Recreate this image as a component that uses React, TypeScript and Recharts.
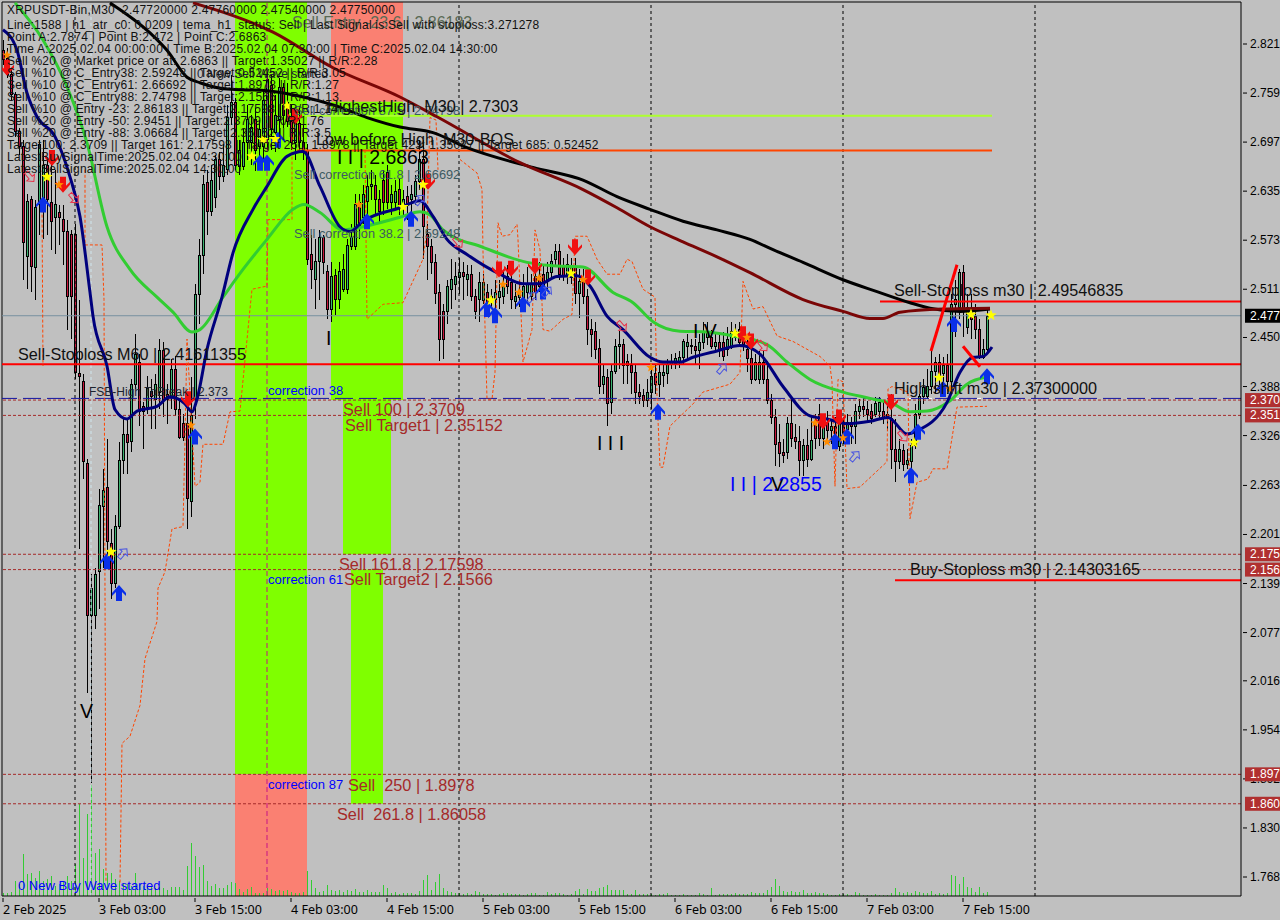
import { ComposedChart, XAxis, YAxis, Bar, Line, Scatter, ReferenceLine, ReferenceArea } from 'recharts';

// [open, high, low, close], one row per M30 bar, split at the chart's day separators
const candlesFeb2 = [
  [2.813,2.826,2.795,2.801],[2.803,2.816,2.778,2.782],[2.782,2.788,2.750,2.757],[2.757,2.760,2.704,2.710],
  [2.710,2.715,2.681,2.691],[2.691,2.700,2.523,2.570],[2.552,2.631,2.511,2.622],[2.624,2.629,2.507,2.540],
  [2.539,2.624,2.498,2.614],[2.618,2.700,2.580,2.694],[2.624,2.700,2.574,2.668],[2.667,2.675,2.580,2.624],
  [2.621,2.679,2.561,2.597],[2.602,2.662,2.555,2.618],[2.608,2.618,2.567,2.602],[2.599,2.618,2.542,2.584],
  [2.584,2.599,2.460,2.502],[2.580,2.586,2.448,2.502],
];
const candlesFeb3 = [
  [2.580,2.593,2.397,2.406],[2.405,2.498,2.183,2.401],[2.395,2.404,2.271,2.293],[2.291,2.296,2.000,2.098],
  [2.098,2.151,1.887,2.133],[2.098,2.158,2.081,2.151],[2.154,2.259,2.107,2.238],[2.236,2.284,2.158,2.257],
  [2.260,2.322,2.170,2.192],[2.189,2.208,2.120,2.139],[2.139,2.225,2.133,2.211],[2.211,2.318,2.208,2.294],
  [2.294,2.349,2.278,2.328],[2.327,2.347,2.278,2.317],[2.318,2.397,2.305,2.391],[2.391,2.454,2.385,2.429],
  [2.419,2.429,2.338,2.357],[2.363,2.368,2.309,2.357],[2.362,2.401,2.353,2.385],[2.382,2.397,2.334,2.375],
  [2.372,2.404,2.334,2.391],[2.381,2.448,2.359,2.433],[2.433,2.444,2.349,2.372],[2.378,2.391,2.341,2.372],
  [2.376,2.423,2.359,2.410],[2.410,2.426,2.351,2.359],[2.359,2.372,2.322,2.324],[2.341,2.353,2.319,2.324],
  [2.341,2.366,2.208,2.246],[2.243,2.400,2.223,2.351],[2.372,2.517,2.347,2.504],[2.504,2.574,2.467,2.554],
  [2.554,2.656,2.530,2.643],[2.646,2.662,2.580,2.609],[2.609,2.668,2.603,2.649],[2.627,2.681,2.614,2.675],
  [2.675,2.685,2.637,2.653],[2.653,2.694,2.646,2.668],[2.662,2.744,2.656,2.728],[2.728,2.782,2.719,2.747],
  [2.747,2.753,2.662,2.668],[2.666,2.700,2.656,2.687],[2.666,2.713,2.662,2.696],[2.696,2.744,2.675,2.725],
  [2.696,2.731,2.668,2.715],[2.725,2.740,2.660,2.687],[2.691,2.725,2.662,2.713],[2.691,2.763,2.675,2.750],
];
const candlesFeb4 = [
  [2.700,2.786,2.687,2.776],[2.769,2.782,2.687,2.713],[2.709,2.757,2.685,2.731],[2.725,2.778,2.700,2.766],
  [2.766,2.772,2.715,2.731],[2.747,2.772,2.716,2.723],[2.723,2.744,2.687,2.696],[2.696,2.738,2.675,2.720],
  [2.720,2.740,2.687,2.696],[2.696,2.719,2.675,2.686],[2.687,2.694,2.542,2.549],[2.555,2.580,2.511,2.536],
  [2.523,2.574,2.486,2.546],[2.546,2.586,2.498,2.576],[2.576,2.580,2.530,2.545],[2.533,2.542,2.473,2.486],
  [2.486,2.546,2.470,2.527],[2.528,2.536,2.479,2.498],[2.498,2.546,2.486,2.533],[2.511,2.555,2.508,2.536],
  [2.511,2.574,2.505,2.566],[2.565,2.593,2.561,2.576],[2.565,2.631,2.561,2.618],[2.621,2.631,2.574,2.589],
  [2.602,2.643,2.593,2.631],[2.622,2.656,2.605,2.641],[2.641,2.662,2.624,2.644],[2.642,2.656,2.605,2.624],
  [2.624,2.637,2.593,2.609],[2.649,2.662,2.605,2.621],[2.658,2.668,2.612,2.621],[2.621,2.643,2.605,2.631],
  [2.621,2.649,2.612,2.634],[2.637,2.652,2.605,2.617],[2.617,2.637,2.605,2.624],[2.628,2.641,2.599,2.617],
  [2.624,2.643,2.593,2.631],[2.628,2.656,2.618,2.647],[2.647,2.700,2.637,2.675],[2.675,2.700,2.549,2.590],
  [2.580,2.593,2.523,2.565],[2.565,2.574,2.530,2.545],[2.545,2.555,2.492,2.505],[2.507,2.517,2.420,2.448],
  [2.483,2.492,2.423,2.448],[2.483,2.523,2.467,2.515],[2.511,2.549,2.486,2.523],[2.517,2.546,2.498,2.527],
];
const candlesFeb5 = [
  [2.526,2.551,2.505,2.532],[2.532,2.546,2.498,2.527],[2.523,2.542,2.502,2.530],[2.530,2.542,2.496,2.502],
  [2.502,2.511,2.473,2.483],[2.498,2.533,2.470,2.520],[2.497,2.530,2.492,2.520],[2.507,2.517,2.479,2.486],
  [2.496,2.511,2.486,2.502],[2.498,2.523,2.479,2.507],[2.501,2.523,2.486,2.508],[2.502,2.533,2.492,2.515],
  [2.527,2.542,2.505,2.515],[2.520,2.530,2.486,2.498],[2.496,2.517,2.486,2.502],[2.501,2.523,2.488,2.508],
  [2.498,2.530,2.486,2.515],[2.507,2.539,2.492,2.517],[2.502,2.530,2.496,2.517],[2.527,2.542,2.498,2.507],
  [2.527,2.546,2.508,2.515],[2.530,2.542,2.505,2.515],[2.521,2.546,2.511,2.532],[2.532,2.555,2.523,2.546],
  [2.549,2.568,2.539,2.559],[2.559,2.568,2.523,2.530],[2.541,2.551,2.521,2.527],[2.527,2.555,2.517,2.542],
  [2.526,2.551,2.517,2.539],[2.540,2.551,2.492,2.505],[2.505,2.536,2.475,2.521],[2.521,2.536,2.492,2.502],
  [2.502,2.511,2.441,2.460],[2.460,2.473,2.425,2.454],[2.457,2.470,2.423,2.435],[2.436,2.448,2.378,2.388],
  [2.391,2.416,2.378,2.401],[2.400,2.410,2.338,2.366],[2.368,2.416,2.353,2.407],[2.407,2.448,2.404,2.438],
  [2.438,2.458,2.410,2.441],[2.441,2.448,2.391,2.414],[2.420,2.429,2.391,2.414],[2.414,2.429,2.378,2.406],
  [2.406,2.416,2.366,2.381],[2.381,2.391,2.366,2.375],[2.377,2.385,2.362,2.370],[2.370,2.397,2.362,2.381],
];
const candlesFeb6 = [
  [2.381,2.410,2.359,2.401],[2.404,2.416,2.378,2.391],[2.391,2.416,2.375,2.406],[2.402,2.416,2.387,2.406],
  [2.404,2.423,2.391,2.416],[2.416,2.429,2.410,2.420],[2.417,2.431,2.410,2.423],[2.419,2.433,2.412,2.425],
  [2.425,2.448,2.416,2.445],[2.438,2.454,2.423,2.444],[2.440,2.448,2.429,2.438],[2.438,2.448,2.416,2.433],
  [2.433,2.454,2.410,2.444],[2.444,2.469,2.435,2.457],[2.450,2.469,2.441,2.457],[2.450,2.460,2.435,2.439],
  [2.439,2.454,2.433,2.444],[2.444,2.454,2.425,2.433],[2.444,2.457,2.420,2.426],[2.435,2.463,2.426,2.448],
  [2.439,2.469,2.435,2.457],[2.450,2.467,2.445,2.458],[2.460,2.470,2.438,2.444],[2.448,2.460,2.433,2.441],
  [2.435,2.448,2.407,2.423],[2.423,2.441,2.391,2.397],[2.397,2.429,2.395,2.419],[2.397,2.433,2.391,2.419],
  [2.419,2.433,2.391,2.397],[2.397,2.420,2.366,2.370],[2.370,2.378,2.341,2.349],[2.349,2.359,2.288,2.315],
  [2.317,2.341,2.286,2.303],[2.304,2.322,2.291,2.301],[2.305,2.349,2.296,2.341],[2.341,2.372,2.312,2.322],
  [2.324,2.341,2.309,2.319],[2.319,2.338,2.275,2.294],[2.294,2.322,2.275,2.313],[2.313,2.334,2.286,2.296],
  [2.296,2.351,2.294,2.320],[2.343,2.353,2.309,2.322],[2.353,2.366,2.313,2.322],[2.322,2.353,2.309,2.337],
  [2.343,2.357,2.322,2.332],[2.332,2.347,2.315,2.338],[2.338,2.349,2.309,2.318],[2.312,2.353,2.307,2.341],
];
const candlesFeb7 = [
  [2.341,2.349,2.315,2.325],[2.334,2.353,2.322,2.343],[2.343,2.349,2.315,2.338],[2.338,2.366,2.315,2.356],
  [2.356,2.372,2.347,2.363],[2.363,2.372,2.349,2.359],[2.359,2.370,2.344,2.353],[2.356,2.366,2.341,2.347],
  [2.353,2.375,2.349,2.366],[2.357,2.375,2.347,2.368],[2.357,2.370,2.341,2.349],[2.353,2.366,2.332,2.349],
  [2.347,2.378,2.284,2.309],[2.309,2.347,2.267,2.293],[2.293,2.322,2.284,2.309],[2.307,2.315,2.281,2.290],
  [2.290,2.309,2.284,2.294],[2.293,2.322,2.284,2.313],[2.313,2.366,2.309,2.353],[2.353,2.378,2.347,2.375],
  [2.375,2.397,2.366,2.387],[2.376,2.410,2.372,2.388],[2.388,2.433,2.378,2.407],[2.407,2.425,2.378,2.419],
  [2.419,2.429,2.385,2.401],[2.404,2.425,2.391,2.414],[2.414,2.429,2.378,2.394],[2.395,2.505,2.378,2.492],
  [2.492,2.523,2.450,2.498],[2.488,2.536,2.473,2.532],[2.532,2.542,2.450,2.486],[2.463,2.505,2.454,2.488],
  [2.486,2.505,2.448,2.473],[2.476,2.492,2.448,2.460],[2.460,2.473,2.423,2.426],[2.425,2.448,2.423,2.435],
  [2.435,2.487,2.429,2.477],
];
const volumes = [
  30,30,40,150,120,420,220,230,180,250, 150,170,200,100,120,150,200,150,320,920,
  380,820,1110,430,470,270,230,230,170,150, 130,120,100,230,120,100,100,90,80,90,
  80,60,90,90,90,60,300,530,400,290, 310,150,100,120,80,80,110,140,130,70,
  40,70,90,30,30,30,80,70,50,60, 50,60,40,30,30,40,250,160,80,40,
  50,110,60,50,60,40,60,50,70,40, 40,60,40,40,40,110,80,30,40,20,
  30,30,30,20,50,160,210,60,140,220, 80,50,40,30,30,20,30,20,50,40,
  20,20,20,10,20,30,30,20,20,20, 10,20,30,30,10,10,40,20,30,30,
  20,10,20,50,70,20,70,50,50,80, 90,110,60,60,60,60,20,20,60,20,
  20,20,20,10,20,20,30,10,10,10, 20,10,10,10,30,20,10,80,10,20,
  20,20,20,30,20,20,20,40,30,30, 30,60,90,170,100,50,40,50,40,40,
  60,30,30,40,30,30,20,10,10,20, 20,20,10,40,30,10,10,10,20,10,
  10,10,30,80,40,30,40,30,50,40, 30,30,50,20,30,20,30,210,200,120,
  190,90,80,40,90,30,40,
];

// indicator lines: [bar index, price]
const blackMa = [[26.75,2.873],[36.75,2.835],[41,2.813],[46,2.779],[49.25,2.772],[56,2.764],[66,2.762],[74.25,2.755],[82.5,2.744],[91,2.728],[99.25,2.716],[107.5,2.709],[116,2.690],[132.5,2.665],[145,2.649],[153.5,2.628],[161.75,2.612],[170,2.597],[178.5,2.586],[186.75,2.574],[192.5,2.561],[200,2.545],[210,2.523],[218.5,2.508],[226.75,2.494],[231.75,2.487],[239.25,2.483],[246.75,2.486]];
const maroonMa = [[47.5,2.873],[67.5,2.836],[82.5,2.791],[99.25,2.754],[108.5,2.729],[129.25,2.671],[145,2.637],[153.5,2.614],[161.75,2.590],[170,2.571],[178.5,2.552],[186.75,2.532],[200,2.498],[210,2.483],[216.75,2.474],[220,2.474],[224.25,2.482],[235,2.486],[246.75,2.487]];
const greenMa = [[3,2.873],[10,2.826],[16,2.767],[21,2.696],[26,2.590],[31.75,2.536],[38.5,2.501],[42.5,2.482],[47.25,2.457],[49.25,2.460],[55,2.501],[60,2.536],[66,2.574],[72.5,2.612],[75.25,2.618],[79.25,2.608],[85,2.586],[90,2.590],[99.25,2.602],[104.25,2.609],[106.75,2.605],[110,2.586],[120,2.564],[131,2.545],[136.75,2.541],[145,2.539],[152.5,2.507],[157.5,2.494],[162.5,2.470],[169.25,2.458],[176,2.457],[182.5,2.452],[191,2.441],[196,2.419],[201.75,2.397],[210,2.381],[216.75,2.373],[222.5,2.366],[226.75,2.356],[231,2.357],[236.75,2.370],[241,2.391],[246,2.400]];
const navyMa = [[0,2.839],[3.5,2.813],[6,2.759],[8.5,2.729],[13,2.704],[16.75,2.653],[19.25,2.603],[21.75,2.507],[22.5,2.477],[26,2.414],[28,2.359],[31,2.347],[33.5,2.357],[38.5,2.363],[41.75,2.375],[45.5,2.366],[47.25,2.356],[48.5,2.372],[51,2.435],[54.75,2.501],[57.5,2.557],[62.5,2.612],[66,2.641],[71,2.679],[75,2.685],[79.25,2.641],[84.25,2.590],[86.75,2.584],[90,2.597],[99.25,2.614],[104.25,2.623],[107.5,2.603],[111,2.574],[116,2.555],[124.25,2.530],[130,2.518],[134.25,2.518],[138.5,2.527],[143.5,2.528],[146.75,2.515],[151,2.477],[155,2.460],[161.75,2.425],[165,2.419],[169.25,2.419],[172.5,2.425],[178.5,2.433],[184.25,2.440],[189.25,2.429],[195,2.388],[201.75,2.351],[206,2.347],[211,2.341],[216.75,2.344],[221.25,2.349],[226,2.328],[228.5,2.332],[236,2.368],[239.25,2.406],[242.5,2.425],[245,2.426],[247.25,2.438]];
const bandFirst = [[9.75,2.618],[10,2.414]];
const bandSecond = [[20.5,2.662],[20.5,2.567],[24.75,2.567],[25.25,2.498],[25.75,1.761]];
const bandThird = [[29.25,1.761],[29.75,1.937],[31.75,1.946],[34.25,1.985],[35.5,2.044],[38.5,2.091],[38.75,2.133],[40.5,2.154],[42.25,2.208],[45,2.211],[45.5,2.322],[46,2.448],[48,2.262],[49.25,2.267],[50,2.315],[55,2.315],[56.75,2.356],[59.25,2.357],[61.75,2.486],[62.25,2.511],[66,2.515],[66.25,2.599],[72.25,2.599],[72.25,2.691],[73,2.728]];
const bandFourth = [[90.5,2.687],[91,2.473],[95,2.492],[100,2.494],[105,2.549],[106,2.586],[106.75,2.728],[108.25,2.725],[108.75,2.662]];
const bandFifth = [[114.25,2.675],[118.5,2.658],[119.75,2.637],[120,2.558],[121,2.372],[122.25,2.372],[123,2.406],[123.75,2.595],[124.75,2.578],[126.75,2.580],[128.5,2.593],[128.75,2.574],[130,2.419],[132.25,2.460],[133,2.586],[134.25,2.561],[135,2.460],[136.75,2.458],[140,2.473],[142.25,2.479],[143,2.578],[146,2.578],[148.5,2.549],[151,2.530],[154.25,2.530],[156,2.549],[157.25,2.546],[160,2.511],[163,2.501],[163.5,2.376],[164.25,2.286],[165,2.286],[166.75,2.338],[172.5,2.366],[175,2.381],[181.75,2.391],[184.25,2.406],[185,2.521],[187.5,2.486],[190,2.489],[193.5,2.452],[197.5,2.445],[204.25,2.426],[206.75,2.414],[207.25,2.394],[208,2.262],[208.75,2.397],[210,2.394],[211,2.259],[214.25,2.261],[221,2.293],[221.25,2.385],[222.25,2.388],[226.25,2.381],[226.75,2.221],[228.5,2.267],[231.25,2.271],[232.5,2.284],[236,2.284],[238.5,2.362],[246,2.363]];

// signal marks: [bar index, price]
const buyArrows = [[10,2.618],[26,2.167],[29,2.127],[48,2.325],[64.25,2.671],[66,2.671],[68.75,2.700],[91,2.597],[102,2.600],[121,2.486],[123,2.478],[130,2.492],[135,2.508],[163.75,2.356],[208,2.319],[211,2.325],[227,2.276],[228.75,2.331],[235,2.385],[237.75,2.467],[246,2.401]];
const sellArrows = [[1,2.791],[12.25,2.677],[15,2.643],[46.25,2.372],[73,2.729],[106.25,2.647],[124,2.536],[127,2.537],[133,2.540],[143,2.564],[146.25,2.526],[185,2.454],[187,2.445],[205,2.344],[209,2.349],[222,2.368]];
const yellowStars = [[11,2.653],[27,2.179],[62.25,2.679],[65,2.700],[68,2.701],[71,2.743],[100,2.615],[105,2.643],[122,2.497],[142,2.531],[183,2.455],[227.75,2.317],[234,2.399],[242,2.479],[247,2.478]];
const orangeStars = [[1,2.807],[14,2.643],[47,2.339],[89,2.618],[125,2.517],[129,2.507],[134,2.525],[145,2.523],[162,2.412],[186,2.450],[203,2.342],[206,2.318],[210,2.323],[236.75,2.385]];
const hollowBuy = [[30,2.177],[132.25,2.501],[136,2.508],[179.75,2.411],[213,2.300],[104.25,2.624]];
const hollowSell = [[6.75,2.653],[17.75,2.626],[113.75,2.570],[154.75,2.464],[190,2.439],[225,2.325]];

// price levels
const targetLevels = [2.3709, 2.35152, 2.17598, 2.1566, 1.8978, 1.86058];
const daySeparators = [18, 114, 162, 210, 258];

// axis
const priceTicks = [2.821,2.759,2.697,2.635,2.573,2.511,2.45,2.388,2.326,2.263,2.201,2.139,2.077,2.016,1.954,1.892,1.83,1.768];
const currentPrice = 2.4775;
const timeTicks = [0,24,48,72,96,120,144,168,192,216,240];
const timeLabels = ['2 Feb 2025','3 Feb 03:00','3 Feb 15:00','4 Feb 03:00','4 Feb 15:00','5 Feb 03:00','5 Feb 15:00','6 Feb 03:00','6 Feb 15:00','7 Feb 03:00','7 Feb 15:00'];

// chart labels: [bar index, price, text]
const levelLabels = [
  [3.75,2.431,'Sell-Stoploss M60 | 2.41611355'],[81,2.744,'HighestHigh  M30 | 2.7303'],[78.25,2.702,'Low before High  M30-BOS'],
  [222.75,2.511,'Sell-Stoploss m30 | 2.49546835'],[222.75,2.387,'High-shift m30 | 2.37300000'],[226.75,2.158,'Buy-Stoploss m30 | 2.14303165'],
];
const targetLabels = [
  [85,2.361,'Sell 100 | 2.3709'],[85.5,2.341,'Sell Target1 | 2.35152'],[84,2.165,'Sell 161.8 | 2.17598'],
  [85.25,2.146,'Sell Target2 | 2.1566'],[86.25,1.886,'Sell  250 | 1.8978'],[83.5,1.849,'Sell  261.8 | 1.86058'],
];
const correctionLabels = [[66.25,2.384,'correction 38'],[66.25,2.145,'correction 61'],[66.25,1.886,'correction 87'],[3.75,1.758,'0 New Buy Wave started']];
const entryLabels = [[72.75,2.738,'Sell correction 87.5 | 2.74798'],[72.75,2.657,'Sell correction 61.8 | 2.66692'],[72.75,2.583,'Sell correction 38.2 | 2.59248']];
const smallLabels = [[21.5,2.382,'FSB-High ToBreak | 2.373'],[48.5,2.784,'0 New Sell Wave started']];
const waveLabels = [[83.5,2.679,'I I | 2.6863'],[192,2.266,'V'],[19.25,1.979,'V'],[80.75,2.450,'I'],[148.5,2.318,'I I I'],[172.5,2.460,'I V']];
const infoLines = [
  'XRPUSDT-Bin,M30  2.47720000 2.47760000 2.47540000 2.47750000',
  'Line:1588 | h1_atr_c0: 0.0209 | tema_h1_status: Sell | Last Signal is:Sell with stoploss:3.271278',
  'Point A:2.7874 | Point B:2.472 | Point C:2.6863',
  'Time A:2025.02.04 00:00:00 | Time B:2025.02.04 07:30:00 | Time C:2025.02.04 14:30:00',
  'Sell %20 @ Market price or at: 2.6863 || Target:1.35027 || R/R:2.28',
  'Sell %10 @ C_Entry38: 2.59248 || Target:0.52452 || R/R:3.05',
  'Sell %10 @ C_Entry61: 2.66692 || Target:1.8978 || R/R:1.27',
  'Sell %10 @ C_Entry88: 2.74798 || Target:2.1566 || R/R:1.13',
  'Sell %10 @ Entry -23: 2.86183 || Target:2.17598 || R/R:1.14',
  'Sell %20 @ Entry -50: 2.9451 || Target:2.3709 || R/R:1.76',
  'Sell %20 @ Entry -88: 3.06684 || Target:2.35152 || R/R:3.5',
  'Target100: 2.3709 || Target 161: 2.17598 || Target 250: 1.8978 || Target 423: 1.35027 || Target 685: 0.52452',
  'LatestBuySignalTime:2025.02.04 04:30:00',
  'LatestSellSignalTime:2025.02.04 14:30:00',
];

const candles = [...candlesFeb2, ...candlesFeb3, ...candlesFeb4, ...candlesFeb5, ...candlesFeb6, ...candlesFeb7];
const chartData = candles.map(([o, h, l, c], i) => ({ i, o, h, l, c, range: [l, h], vol: volumes[i] }));
const pts = (rows: number[][]) => rows.map(([i, p]) => ({ i, p }));
const tagged = (rows: any[][]) => rows.map(([i, p, t]) => ({ i, p, t }));

const FONT = '"Liberation Sans", Arial, sans-serif';
const AXIS_FONT = '"Noto Sans", sans-serif';
const GREEN_ZONE = '#7fff00';
const SALMON_ZONE = '#fa8072';
const BROWN = '#a52a2a';
const X_DOMAIN: [number, number] = [-0.25, 309.5];
const Y_DOMAIN: [number, number] = [1.744, 2.8741];

function Candle(props: any) {
  const { x, y, width, height, payload } = props;
  const k = height / (payload.h - payload.l);
  const top = y + (payload.h - Math.max(payload.o, payload.c)) * k;
  const bottom = y + (payload.h - Math.min(payload.o, payload.c)) * k;
  const mid = Math.round(x + width / 2);
  const bull = payload.c >= payload.o;
  return (
    <g shapeRendering="crispEdges">
      <line x1={mid + 0.5} x2={mid + 0.5} y1={y} y2={y + height} stroke="#000" />
      <rect x={mid - 0.5} y={top} width={2} height={Math.max(bottom - top, 1)} fill={bull ? '#3cb371' : '#c8143c'} stroke="#000" />
    </g>
  );
}

function VolumeBar(props: any) {
  const { x, y, width, height } = props;
  const mid = Math.round(x + width / 2);
  return <rect x={mid} y={y} width={1} height={height} fill="#33cc33" shapeRendering="crispEdges" />;
}

const upArrowPath = 'M0,-8 L7,0 L7,3 L3,-1 L3,8 L-3,8 L-3,-1 L-7,3 L-7,0 Z';
const UpArrow = ({ cx, cy }: any) => <path d={upArrowPath} transform={`translate(${cx},${cy})`} fill="#0a2fe8" />;
const DownArrow = ({ cx, cy }: any) => <path d={upArrowPath} transform={`translate(${cx},${cy}) scale(1,-1)`} fill="#f01010" />;
const HollowBuy = ({ cx, cy }: any) => (
  <path d="M0,-6 L5,-1 L2,-1 L2,6 L-2,6 L-2,-1 L-5,-1 Z" transform={`translate(${cx},${cy}) rotate(40)`} fill="none" stroke="#4a55e0" />
);
const HollowSell = ({ cx, cy }: any) => (
  <path d="M0,-6 L5,-1 L2,-1 L2,6 L-2,6 L-2,-1 L-5,-1 Z" transform={`translate(${cx},${cy}) rotate(140)`} fill="none" stroke="#e83048" />
);

function starPath(r: number) {
  let d = '';
  for (let n = 0; n < 10; n++) {
    const rad = n % 2 ? r * 0.42 : r;
    const a = -Math.PI / 2 + (n * Math.PI) / 5;
    d += `${n ? 'L' : 'M'}${(rad * Math.cos(a)).toFixed(2)},${(rad * Math.sin(a)).toFixed(2)} `;
  }
  return d + 'Z';
}
const Star = (fill: string, r: number) => ({ cx, cy }: any) => (
  <path d={starPath(r)} transform={`translate(${cx},${cy})`} fill={fill} />
);

const Label = (fill: string, size: number) => ({ cx, cy, payload }: any) => (
  <text x={cx} y={cy + 1} dominantBaseline="central" fill={fill} fontSize={size} fontFamily={FONT} style={{ whiteSpace: 'pre' }}>
    {payload.t}
  </text>
);

function PriceTick({ x, y, payload }: any) {
  const v = payload.value;
  const isCurrent = v === currentPrice;
  const isTarget = targetLevels.includes(v);
  const tag = isCurrent || isTarget;
  return (
    <g>
      {tag ? (
        <rect x={x + 2} y={y - 7} width={44} height={14} fill={isCurrent ? '#000' : '#b03030'} />
      ) : (
        <line x1={x} x2={x + 4} y1={y} y2={y} stroke="#000" />
      )}
      <text x={x + 7} y={y} dominantBaseline="central" fontSize={12} fontFamily={FONT} fill={tag ? '#fff' : '#000'}>
        {v.toFixed(5).slice(0, 5)}
      </text>
    </g>
  );
}

function TimeTick({ x, y, payload }: any) {
  return (
    <g>
      <line x1={x} x2={x} y1={y} y2={y + 4} stroke="#000" />
      <text x={x} y={y + 16} fontSize={12.5} fontFamily={AXIS_FONT} fill="#000">
        {timeLabels[timeTicks.indexOf(payload.value)]}
      </text>
    </g>
  );
}

const bandLine = (rows: number[][], key: string) => (
  <Line key={key} data={pts(rows)} dataKey="p" stroke="#ff4500" strokeWidth={1} strokeDasharray="3 2" dot={false} isAnimationActive={false} />
);
const maLine = (rows: number[][], color: string, key: string) => (
  <Line key={key} data={pts(rows)} dataKey="p" stroke={color} strokeWidth={3} type="monotone" dot={false} isAnimationActive={false} />
);
const marks = (rows: any[], shape: any, key: string) => (
  <Scatter key={key} data={rows} dataKey="p" shape={shape} isAnimationActive={false} />
);

export default function App() {
  return (
    <div style={{ position: 'absolute', left: 0, top: 0, width: 1280, height: 920, background: '#c0c0c0', overflow: 'hidden' }}>
      <ComposedChart width={1280} height={920} data={chartData} margin={{ top: 2, right: 0, bottom: 0, left: 2 }}>
        <XAxis dataKey="i" type="number" domain={X_DOMAIN} allowDataOverflow ticks={timeTicks} interval={0} tick={TimeTick} tickLine={false} tickSize={0} height={24} axisLine={{ stroke: '#000' }} />
        <YAxis orientation="right" type="number" domain={Y_DOMAIN} allowDataOverflow ticks={[...priceTicks, ...targetLevels, currentPrice]} interval={0} tick={PriceTick} tickLine={false} tickSize={0} width={39} axisLine={{ stroke: '#000' }} />
        <YAxis yAxisId="vol" hide type="number" domain={[0, 8940]} allowDataOverflow />

        <ReferenceArea x1={58} x2={76} y1={1.8978} y2={2.8741} fill={GREEN_ZONE} fillOpacity={1} stroke="none" />
        <ReferenceArea x1={58} x2={76} y1={1.744} y2={1.8978} fill={SALMON_ZONE} fillOpacity={1} stroke="none" />
        <ReferenceArea x1={82} x2={100} y1={2.7479} y2={2.8741} fill={SALMON_ZONE} fillOpacity={1} stroke="none" />
        <ReferenceArea x1={82} x2={100} y1={2.3709} y2={2.7479} fill={GREEN_ZONE} fillOpacity={1} stroke="none" />
        <ReferenceArea x1={85} x2={97} y1={2.17598} y2={2.3709} fill={GREEN_ZONE} fillOpacity={1} stroke="none" />
        <ReferenceArea x1={87} x2={95} y1={1.86058} y2={2.1566} fill={GREEN_ZONE} fillOpacity={1} stroke="none" />

        {daySeparators.map((d) => (
          <ReferenceLine key={d} x={d} stroke="#000" strokeDasharray="3 3" />
        ))}
        <ReferenceLine x={22} stroke="#cfe6ee" strokeDasharray="3 3" />
        <ReferenceLine x={-0.25} stroke="#000" />
        <ReferenceLine y={2.8741} stroke="#000" />

        <Bar dataKey="vol" yAxisId="vol" barSize={1} shape={VolumeBar} isAnimationActive={false} />
        <Bar dataKey="range" barSize={3} shape={Candle} isAnimationActive={false} />

        <ReferenceLine x={66} stroke="#c71585" strokeDasharray="5 3" />
        <ReferenceLine y={currentPrice} stroke="#7890a0" />
        {targetLevels.map((v) => (
          <ReferenceLine key={v} y={v} stroke={BROWN} strokeDasharray="3 2" />
        ))}
        <ReferenceLine segment={[{ x: 222.5, y: 2.373 }, { x: 247, y: 2.373 }]} stroke="#ffffff" strokeDasharray="4 3" />
        <ReferenceLine y={2.373} stroke="#1414a0" strokeWidth={1} strokeDasharray="18 6" />
        <ReferenceLine y={2.41611355} stroke="#ff0000" strokeWidth={2} />
        <ReferenceLine segment={[{ x: 219.25, y: 2.49546835 }, { x: 309.5, y: 2.49546835 }]} stroke="#ff0000" strokeWidth={2} />
        <ReferenceLine segment={[{ x: 223, y: 2.14303165 }, { x: 309.5, y: 2.14303165 }]} stroke="#ff0000" strokeWidth={2} />
        <ReferenceLine segment={[{ x: 73.5, y: 2.6863 }, { x: 247.25, y: 2.6863 }]} stroke="#ff4500" strokeWidth={2} />
        <ReferenceLine segment={[{ x: 75.5, y: 2.7303 }, { x: 247.25, y: 2.7303 }]} stroke="#adff2f" strokeWidth={2} />

        {bandLine(bandFirst, 'b1')}
        {bandLine(bandSecond, 'b2')}
        {bandLine(bandThird, 'b3')}
        {bandLine(bandFourth, 'b4')}
        {bandLine(bandFifth, 'b5')}
        {maLine(blackMa, '#000', 'ma1')}
        {maLine(maroonMa, '#7a0606', 'ma2')}
        {maLine(greenMa, '#32cd32', 'ma3')}
        {maLine(navyMa, '#00007d', 'ma4')}

        <ReferenceLine segment={[{ x: 232, y: 2.433 }, { x: 238.5, y: 2.542 }]} stroke="#ff0000" strokeWidth={3} />
        <ReferenceLine segment={[{ x: 240, y: 2.439 }, { x: 244.25, y: 2.413 }]} stroke="#ff0000" strokeWidth={3} />

        {marks(pts(buyArrows), UpArrow, 'buy')}
        {marks(pts(sellArrows), DownArrow, 'sell')}
        {marks(pts(hollowBuy), HollowBuy, 'hb')}
        {marks(pts(hollowSell), HollowSell, 'hs')}
        {marks(pts(orangeStars), Star('#ff8c00', 5), 'os')}
        {marks(pts(yellowStars), Star('#ffff00', 6), 'ys')}

        {marks(tagged([[72.25, 2.85, 'Sell Entry -23.6 | 2.86183']]), Label('#5a6a55', 16), 'entry')}
        {marks(tagged(entryLabels), Label('#3c5a62', 12.8), 'corr')}
        {marks(tagged(smallLabels), Label('#1c2430', 12), 'small')}
        {marks(tagged(correctionLabels), Label('#0000ff', 13), 'blue')}
        {marks(tagged(targetLabels), Label('#a52a2a', 16.3), 'target')}
        {marks(tagged(levelLabels), Label('#111', 16.2), 'level')}
        {marks(tagged(waveLabels), Label('#000', 19.5), 'wave')}
        {marks(tagged([[181.75, 2.266, 'I I | 2.2855']]), Label('#0000ff', 19.5), 'waveBlue')}
      </ComposedChart>
      <div style={{ position: 'absolute', left: 7, top: 4, fontFamily: FONT, fontSize: 12, letterSpacing: 0.22, lineHeight: '12px', color: '#111', whiteSpace: 'pre', pointerEvents: 'none' }}>
        {infoLines.map((t, n) => (
          <div key={n} style={{ height: n === 0 ? 15 : 12 }}>{t}</div>
        ))}
      </div>
    </div>
  );
}
